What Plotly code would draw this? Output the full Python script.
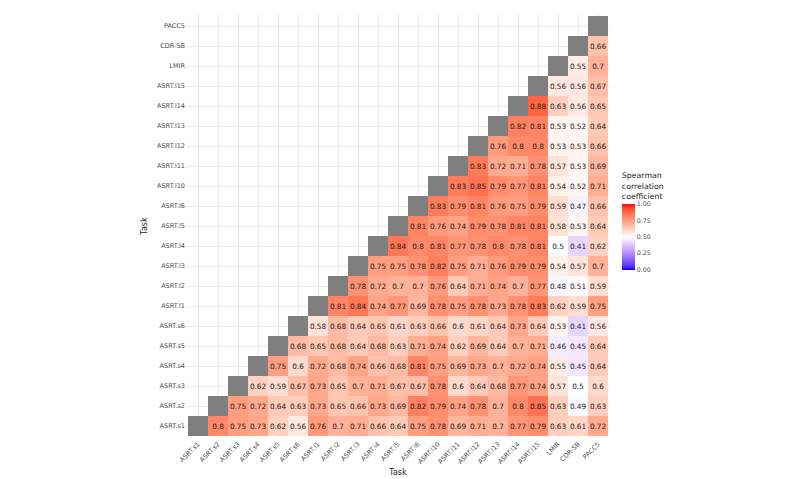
import numpy as np
import plotly.graph_objects as go

tasks = ["ASRT.s1", "ASRT.s2", "ASRT.s3", "ASRT.s4", "ASRT.s5", "ASRT.s6",
         "ASRT.l1", "ASRT.l2", "ASRT.l3", "ASRT.l4", "ASRT.l5", "ASRT.l6",
         "ASRT.l10", "ASRT.l11", "ASRT.l12", "ASRT.l13", "ASRT.l14", "ASRT.l15",
         "LMIR", "CDR-SB", "PACC5"]

# each row: correlations of that task with all tasks listed after it
r_s1 = [0.8, 0.75, 0.73, 0.62, 0.56, 0.76, 0.7, 0.71, 0.66, 0.64, 0.75, 0.78, 0.69, 0.71, 0.7, 0.77, 0.79, 0.63, 0.61, 0.72]
r_s2 = [0.75, 0.72, 0.64, 0.63, 0.73, 0.65, 0.66, 0.73, 0.69, 0.82, 0.79, 0.74, 0.78, 0.7, 0.8, 0.85, 0.63, 0.49, 0.63]
r_s3 = [0.62, 0.59, 0.67, 0.73, 0.65, 0.7, 0.71, 0.67, 0.67, 0.78, 0.6, 0.64, 0.68, 0.77, 0.74, 0.57, 0.5, 0.6]
r_s4 = [0.75, 0.6, 0.72, 0.68, 0.74, 0.66, 0.68, 0.81, 0.75, 0.69, 0.73, 0.7, 0.72, 0.74, 0.55, 0.45, 0.64]
r_s5 = [0.68, 0.65, 0.68, 0.64, 0.68, 0.63, 0.71, 0.74, 0.62, 0.69, 0.64, 0.7, 0.71, 0.46, 0.45, 0.64]
r_s6 = [0.58, 0.68, 0.64, 0.65, 0.61, 0.63, 0.66, 0.6, 0.61, 0.64, 0.73, 0.64, 0.53, 0.41, 0.56]
r_l1 = [0.81, 0.84, 0.74, 0.77, 0.69, 0.78, 0.75, 0.78, 0.73, 0.78, 0.83, 0.62, 0.59, 0.75]
r_l2 = [0.78, 0.72, 0.7, 0.7, 0.76, 0.64, 0.71, 0.74, 0.7, 0.77, 0.48, 0.51, 0.59]
r_l3 = [0.75, 0.75, 0.78, 0.82, 0.75, 0.71, 0.76, 0.79, 0.79, 0.54, 0.57, 0.7]
r_l4 = [0.84, 0.8, 0.81, 0.77, 0.78, 0.8, 0.78, 0.81, 0.5, 0.41, 0.62]
r_l5 = [0.81, 0.76, 0.74, 0.79, 0.78, 0.81, 0.81, 0.58, 0.53, 0.64]
r_l6 = [0.83, 0.79, 0.81, 0.76, 0.75, 0.79, 0.59, 0.47, 0.66]
r_l10 = [0.83, 0.85, 0.79, 0.77, 0.81, 0.54, 0.52, 0.71]
r_l11 = [0.83, 0.72, 0.71, 0.78, 0.57, 0.53, 0.69]
r_l12 = [0.76, 0.8, 0.8, 0.53, 0.53, 0.66]
r_l13 = [0.82, 0.81, 0.53, 0.52, 0.64]
r_l14 = [0.88, 0.63, 0.56, 0.65]
r_l15 = [0.56, 0.56, 0.67]
r_lmir = [0.55, 0.7]
r_cdr = [0.66]

rows = [r_s1, r_s2, r_s3, r_s4, r_s5, r_s6, r_l1, r_l2, r_l3, r_l4, r_l5, r_l6,
        r_l10, r_l11, r_l12, r_l13, r_l14, r_l15, r_lmir, r_cdr, []]

n = len(tasks)
z = [[None] * n for _ in range(n)]
txt = [[""] * n for _ in range(n)]
zd = [[None] * n for _ in range(n)]
for i, row in enumerate(rows):
    for k, v in enumerate(row):
        j = i + 1 + k
        z[i][j] = v
        txt[i][j] = f"{v:g}"
    zd[i][i] = 1

# --- Lab interpolation (like ggplot's gradient2) ---
def srgb_to_lin(c):
    c = c / 255.0
    return np.where(c <= 0.04045, c / 12.92, ((c + 0.055) / 1.055) ** 2.4)

def lin_to_srgb(c):
    c = np.clip(c, 0, 1)
    return np.where(c <= 0.0031308, 12.92 * c, 1.055 * c ** (1 / 2.4) - 0.055) * 255

M = np.array([[0.4124, 0.3576, 0.1805], [0.2126, 0.7152, 0.0722], [0.0193, 0.1192, 0.9505]])
Minv = np.linalg.inv(M)
WP = np.array([0.95047, 1.0, 1.08883])

def to_lab(rgb):
    xyz = M @ srgb_to_lin(np.array(rgb, float)) / WP
    f = np.where(xyz > 0.008856, np.cbrt(xyz), 7.787 * xyz + 16 / 116)
    return np.array([116 * f[1] - 16, 500 * (f[0] - f[1]), 200 * (f[1] - f[2])])

def from_lab(lab):
    fy = (lab[0] + 16) / 116
    fx = fy + lab[1] / 500
    fz = fy - lab[2] / 200
    f = np.array([fx, fy, fz])
    xyz = np.where(f ** 3 > 0.008856, f ** 3, (f - 16 / 116) / 7.787) * WP
    rgb = lin_to_srgb(Minv @ xyz)
    return "rgb(%d,%d,%d)" % tuple(np.round(rgb).astype(int))

lo, mid, hi = to_lab([0, 0, 255]), to_lab([255, 255, 255]), to_lab([255, 0, 0])
cscale = []
for t in np.linspace(0, 1, 21):
    if t <= 0.5:
        lab = lo + (mid - lo) * (t / 0.5)
    else:
        lab = mid + (hi - mid) * ((t - 0.5) / 0.5)
    cscale.append([float(t), from_lab(lab)])

fig = go.Figure()
fig.add_trace(go.Heatmap(
    x=tasks, y=tasks, z=z, text=txt, texttemplate="%{text}",
    textfont=dict(size=7.3, color="#1a1a1a", family="DejaVu Sans"),
    colorscale=cscale, zmin=0, zmax=1, hoverongaps=False,
    colorbar=dict(
        title=dict(text="Spearman<br>correlation<br>coefficient", side="top",
                   font=dict(size=7.8, color="#1a1a1a", family="DejaVu Sans")),
        tickvals=[0, 0.25, 0.5, 0.75, 1], ticktext=["0.00", "0.25", "0.50", "0.75", "1.00"],
        tickfont=dict(size=6.3, color="#4d4d4d", family="DejaVu Sans"),
        thickness=13, lenmode="pixels", len=100, x=1.028, xanchor="left", xpad=0,
        y=0.515, yanchor="middle", ypad=0, outlinewidth=0, ticks="",
    ),
))
fig.add_trace(go.Heatmap(
    x=tasks, y=tasks, z=zd, colorscale=[[0, "#7f7f7f"], [1, "#7f7f7f"]],
    showscale=False, hoverongaps=False,
))

axis_common = dict(
    showgrid=True, gridcolor="#ebebeb", gridwidth=0.8, zeroline=False,
    showline=False, ticks="", tickfont=dict(size=6.5, color="#4d4d4d", family="DejaVu Sans"),
    title_font=dict(size=8, color="#1a1a1a", family="DejaVu Sans"),
    range=[-0.6, 20.6], type="category",
)
fig.update_xaxes(**axis_common, tickangle=-45, title_text="Task", title_standoff=4)
fig.update_yaxes(**axis_common, title_text="Task", title_standoff=8)
fig.update_layout(
    width=800, height=479, margin=dict(l=178, r=198, t=6, b=49),
    plot_bgcolor="white", paper_bgcolor="white",
    font=dict(family="DejaVu Sans"),
)
fig.write_html("out.html")
